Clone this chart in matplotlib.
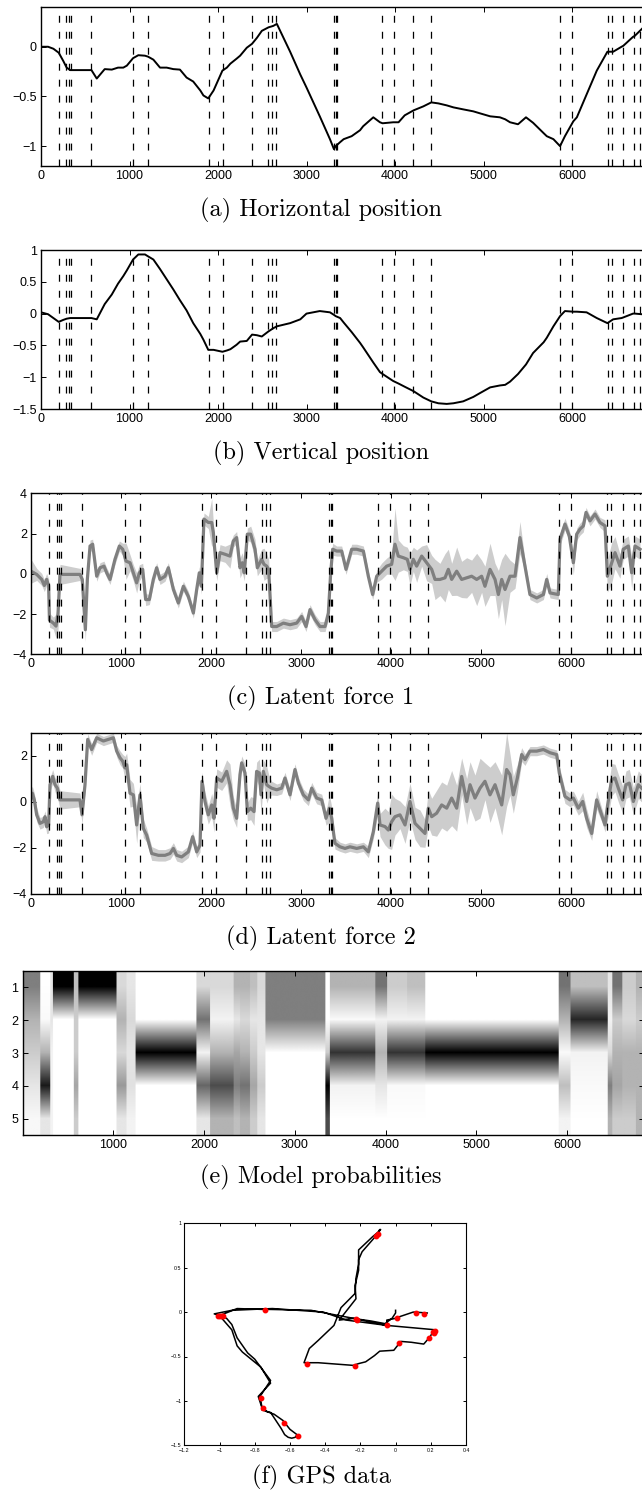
import numpy as np
import matplotlib.pyplot as plt
from matplotlib.ticker import FuncFormatter

plt.rcParams['font.family'] = ['Liberation Sans', 'DejaVu Sans']
plt.rcParams['lines.scale_dashes'] = False

# changepoints (dashed lines)
changepoints = [200, 286, 313, 336, 562, 1040, 1206, 1902, 2053, 2384,
                2562, 2607, 2652, 3311, 3330, 3348, 3857, 3985, 4207, 4410,
                5868, 6003, 6403, 6449, 6573, 6701, 6768]

# positions (horizontal / vertical), read at common times
t_pos = [0, 80, 140, 200, 250, 290, 330, 450, 570, 630,
         720, 800, 870, 930, 970, 1040, 1100, 1175, 1210, 1270,
         1345, 1420, 1495, 1570, 1645, 1720, 1800, 1835, 1890, 1950,
         2050, 2100, 2140, 2210, 2250, 2325, 2385, 2440, 2495, 2570,
         2625, 2665, 2815, 2930, 3000, 3150, 3265, 3310, 3330, 3380,
         3420, 3510, 3605, 3640, 3755, 3830, 3860, 3980, 4040, 4110,
         4210, 4320, 4410, 4490, 4585, 4660, 4770, 4885, 4960, 5075,
         5185, 5245, 5300, 5390, 5480, 5560, 5680, 5715, 5790, 5865,
         5920, 6015, 6055, 6165, 6280, 6400, 6465, 6560, 6580, 6690,
         6710, 6790]
horiz = [0.0, 0.0, -0.02, -0.06, -0.14, -0.21, -0.235, -0.235, -0.235, -0.32,
         -0.225, -0.23, -0.21, -0.21, -0.19, -0.115, -0.085, -0.09, -0.10, -0.13,
         -0.21, -0.21, -0.225, -0.23, -0.31, -0.35, -0.44, -0.49, -0.52, -0.44,
         -0.24, -0.21, -0.17, -0.12, -0.09, -0.01, 0.03, 0.09, 0.16, 0.195,
         0.21, 0.23, -0.05, -0.28, -0.41, -0.70, -0.93, -1.03, -1.00, -0.96,
         -0.93, -0.90, -0.84, -0.80, -0.71, -0.76, -0.77, -0.76, -0.76, -0.69,
         -0.64, -0.60, -0.56, -0.57, -0.59, -0.61, -0.63, -0.65, -0.67, -0.70,
         -0.71, -0.73, -0.76, -0.78, -0.71, -0.765, -0.87, -0.90, -0.93, -1.00,
         -0.90, -0.75, -0.71, -0.48, -0.24, -0.05, -0.05, 0.0, 0.01, 0.10,
         0.11, 0.18]
vert = [0.02, -0.01, -0.07, -0.13, -0.10, -0.08, -0.07, -0.07, -0.07, -0.09,
        0.15, 0.30, 0.47, 0.59, 0.68, 0.85, 0.93, 0.93, 0.90, 0.85,
        0.70, 0.54, 0.38, 0.21, 0.05, -0.15, -0.32, -0.41, -0.57, -0.57,
        -0.60, -0.58, -0.56, -0.49, -0.44, -0.43, -0.33, -0.34, -0.36, -0.28,
        -0.23, -0.20, -0.15, -0.09, 0.0, 0.04, 0.02, -0.02, -0.04, -0.07,
        -0.14, -0.29, -0.46, -0.53, -0.77, -0.92, -0.95, -1.06, -1.10, -1.15,
        -1.22, -1.32, -1.38, -1.41, -1.42, -1.41, -1.38, -1.31, -1.25, -1.16,
        -1.13, -1.12, -1.07, -0.95, -0.80, -0.62, -0.45, -0.38, -0.20, -0.04,
        0.04, 0.03, 0.03, 0.02, -0.07, -0.15, -0.09, -0.07, -0.06, 0.0,
        0.0, -0.01]

# latent force 1: time, mean, band half-width
lf1_t = [0, 63, 119, 148, 174, 196, 205, 248, 278, 300,
         322, 544, 570, 604, 626, 656, 685, 730, 767, 811,
         841, 878, 933, 982, 1019, 1056, 1100, 1137, 1174, 1204,
         1241, 1274, 1315, 1359, 1396, 1433, 1489, 1526, 1582, 1637,
         1693, 1748, 1804, 1841, 1870, 1893, 1922, 1970, 2008, 2026,
         2063, 2100, 2156, 2211, 2248, 2285, 2322, 2348, 2370, 2404,
         2441, 2489, 2515, 2563, 2589, 2619, 2641, 2674, 2730, 2804,
         2878, 2952, 3007, 3056, 3100, 3156, 3211, 3267, 3304, 3330,
         3352, 3396, 3452, 3500, 3563, 3618, 3693, 3748, 3796, 3841,
         3896, 3952, 4007, 4044, 4081, 4137, 4181, 4211, 4248, 4285,
         4341, 4396, 4452, 4489, 4544, 4600, 4637, 4674, 4730, 4785,
         4841, 4896, 4952, 5007, 5044, 5100, 5156, 5193, 5230, 5267,
         5322, 5378, 5433, 5489, 5544, 5619, 5693, 5730, 5767, 5859,
         5878, 5933, 5981, 6026, 6063, 6100, 6137, 6167, 6211, 6267,
         6322, 6378, 6404, 6452, 6489, 6544, 6581, 6637, 6674, 6711,
         6767]
lf1_mean = [0.13, -0.03, -0.28, -0.58, -0.28, -0.6, -2.3, -2.45, -2.6, -2.0,
            -0.03, -0.03, -0.28, -2.78, -0.28, 1.38, 1.47, -0.12, 0.3, 0.38,
            0.05, -0.28, 0.72, 1.38, 1.22, 0.63, 0.55, 0.05, -0.45, 0.05,
            0.22, -1.28, -1.28, -0.28, 0.3, -0.28, -0.12, 0.3, -0.78, -1.45,
            -0.62, -1.12, -1.95, -0.78, 0.05, -0.62, 2.72, 2.55, 2.55, 2.05,
            0.05, 1.05, 0.97, 0.88, 1.63, 1.8, 0.3, 0.55, 0.05, 1.97,
            1.97, 1.22, 0.3, 0.72, 0.47, 0.38, 0.22, -2.62, -2.62, -2.45,
            -2.53, -2.45, -2.12, -2.62, -1.78, -2.28, -2.62, -2.62, -1.95, 0.05,
            1.22, 1.13, 1.13, 0.22, 1.22, 1.22, 1.13, -0.12, -1.03, -0.12,
            0.13, 0.38, 0.47, 1.47, 0.88, 0.8, 0.72, 0.22, 0.72, 0.38,
            0.88, 0.55, 0.22, -0.28, -0.28, -0.2, 0.22, -0.28, 0.13, -0.28,
            -0.2, -0.12, -0.28, -0.12, -0.62, 0.22, -0.28, -1.03, -0.28, -0.78,
            -0.12, -0.12, 1.8, 0.38, -1.03, -1.2, -1.03, -0.28, -0.95, -1.03,
            1.72, 2.47, 1.88, 0.55, 1.97, 2.22, 2.38, 3.05, 2.63, 2.97,
            2.55, 2.38, -0.12, 0.55, 1.05, 0.38, 1.22, 1.38, 0.05, 1.38,
            1.22]
lf1_sd = [0.6, 0.3, 0.3, 0.3, 0.3, 0.35, 0.35, 0.3, 0.6, 0.8,
          0.5, 0.3, 0.4, 0.6, 0.4, 0.3, 0.25, 0.25, 0.25, 0.25,
          0.25, 0.25, 0.25, 0.25, 0.3, 0.9, 0.4, 0.4, 0.5, 0.4,
          0.3, 0.3, 0.25, 0.25, 0.25, 0.25, 0.25, 0.25, 0.25, 0.25,
          0.25, 0.25, 0.25, 0.25, 0.3, 0.4, 0.3, 0.3, 1.2, 0.5,
          0.4, 0.4, 0.4, 0.6, 0.3, 0.3, 0.5, 0.5, 0.4, 0.3,
          0.4, 0.5, 0.4, 0.5, 0.8, 0.6, 0.5, 0.25, 0.25, 0.25,
          0.25, 0.25, 0.25, 0.25, 0.25, 0.25, 0.25, 0.25, 0.3, 0.6,
          0.3, 0.25, 0.25, 0.25, 0.25, 0.25, 0.25, 0.25, 0.25, 0.3,
          0.4, 0.4, 0.5, 1.8, 0.8, 0.6, 0.6, 0.8, 0.6, 0.8,
          0.5, 0.9, 0.7, 1.0, 0.8, 1.2, 1.0, 0.8, 1.2, 0.9,
          1.0, 0.8, 1.3, 0.8, 1.0, 1.3, 0.8, 1.2, 1.0, 1.8,
          0.8, 0.6, 0.8, 0.3, 0.25, 0.25, 0.25, 0.3, 0.25, 0.25,
          0.3, 0.3, 0.3, 0.6, 0.3, 0.3, 0.3, 0.25, 0.25, 0.25,
          0.25, 0.3, 0.8, 1.0, 0.8, 0.6, 0.5, 0.5, 0.8, 0.5,
          0.5]

# latent force 2: time, mean, band half-width
lf2_t = [0, 15, 37, 63, 100, 137, 156, 174, 196, 211,
         241, 267, 293, 322, 544, 567, 600, 630, 674, 730,
         804, 859, 915, 952, 989, 1019, 1044, 1063, 1100, 1137,
         1174, 1211, 1248, 1285, 1341, 1415, 1489, 1545, 1582, 1619,
         1674, 1748, 1796, 1841, 1878, 1900, 1933, 1970, 2008, 2033,
         2063, 2119, 2174, 2211, 2248, 2285, 2322, 2341, 2378, 2404,
         2441, 2478, 2507, 2537, 2556, 2582, 2619, 2641, 2674, 2730,
         2785, 2822, 2878, 2933, 2971, 3026, 3082, 3119, 3174, 3230,
         3278, 3315, 3341, 3367, 3378, 3433, 3489, 3544, 3619, 3693,
         3748, 3804, 3852, 3878, 3933, 3970, 4007, 4044, 4100, 4156,
         4211, 4267, 4322, 4378, 4415, 4452, 4507, 4563, 4619, 4674,
         4730, 4785, 4841, 4878, 4933, 4989, 5044, 5100, 5156, 5230,
         5285, 5322, 5359, 5404, 5452, 5489, 5544, 5619, 5693, 5767,
         5841, 5870, 5933, 5989, 6026, 6081, 6130, 6174, 6230, 6285,
         6341, 6378, 6407, 6452, 6489, 6526, 6574, 6611, 6648, 6693,
         6748, 6785]
lf2_mean = [0.15, 0.36, 0.07, -0.58, -0.95, -0.88, -0.66, -1.1, -1.02, 0.73,
            1.09, 0.73, 0.58, 0.07, 0.07, -0.58, 0.73, 2.7, 2.26, 2.77,
            2.63, 2.7, 2.77, 2.19, 1.9, 1.75, 1.46, 1.6, 0.36, 0.29,
            -1.02, 0.29, -1.17, -1.46, -2.26, -2.34, -2.34, -2.26, -2.04, -2.34,
            -2.41, -2.19, -1.53, -2.19, -1.9, 0.88, 0.0, -0.58, -0.15, -0.73,
            1.02, 0.88, 1.31, 0.73, -0.29, -0.73, 1.17, 1.68, 1.24, -0.44,
            -0.29, -0.44, 1.31, 1.24, 0.29, 1.31, 0.73, 0.66, 0.58, 0.51,
            0.58, 1.02, 0.29, 1.39, 0.8, 0.29, 0.07, 0.58, 0.15, 0.07,
            -0.73, -0.29, -0.73, -1.53, -1.82, -1.97, -2.04, -1.97, -2.04, -1.97,
            -2.19, -1.31, -0.07, -1.02, -1.09, -1.24, -0.88, -0.66, -0.58, -1.02,
            0.0, -0.95, -1.17, -1.39, -0.29, -0.66, -0.51, -0.15, -0.29, 0.15,
            -0.29, 1.09, 0.0, 0.73, 0.15, 0.58, 0.88, 0.29, 0.73, -0.15,
            1.39, 1.17, 0.29, 1.02, 2.04, 1.82, 2.19, 2.19, 2.26, 2.12,
            2.04, 1.24, 0.22, 0.07, 0.15, -0.29, 0.0, -0.73, -1.39, 0.07,
            -0.58, -1.02, -0.15, 0.95, 1.02, 0.58, 0.07, 0.73, 0.8, 0.0,
            0.73, 0.58]
lf2_sd = [0.4, 0.3, 0.3, 0.3, 0.25, 0.25, 0.25, 0.3, 0.35, 0.3,
          0.3, 0.3, 0.4, 0.4, 0.3, 0.4, 0.3, 0.25, 0.25, 0.2,
          0.2, 0.2, 0.2, 0.25, 0.3, 0.3, 0.5, 0.5, 0.6, 0.5,
          0.8, 0.5, 0.4, 0.3, 0.3, 0.25, 0.25, 0.25, 0.25, 0.25,
          0.25, 0.25, 0.25, 0.25, 0.3, 0.4, 0.4, 0.4, 0.5, 0.6,
          0.4, 0.4, 0.5, 0.9, 0.5, 0.4, 0.3, 0.3, 0.4, 0.4,
          0.5, 0.6, 0.4, 0.6, 0.8, 0.5, 0.8, 0.5, 0.3, 0.25,
          0.25, 0.25, 0.25, 0.25, 0.25, 0.25, 0.25, 0.25, 0.25, 0.25,
          0.3, 0.6, 0.5, 0.3, 0.25, 0.2, 0.2, 0.2, 0.2, 0.2,
          0.25, 0.3, 0.5, 0.5, 0.8, 0.8, 1.2, 0.8, 0.6, 0.8,
          0.8, 0.7, 0.8, 0.6, 0.8, 0.8, 1.0, 1.0, 1.0, 1.2,
          1.0, 0.8, 1.0, 1.0, 1.0, 1.3, 0.8, 1.2, 1.0, 1.3,
          1.6, 0.9, 0.8, 0.6, 0.3, 0.25, 0.2, 0.2, 0.2, 0.2,
          0.2, 0.3, 0.3, 0.3, 0.3, 0.3, 0.4, 0.4, 0.3, 0.4,
          0.3, 0.3, 0.6, 0.7, 0.6, 0.6, 0.6, 0.6, 0.6, 0.6,
          0.6, 0.6]

# model probabilities per segment (models 1..5)
seg_edges = [0, 184, 294, 324, 559, 610, 1022, 1132, 1231, 1904,
             2058, 2316, 2390, 2500, 2573, 2665, 3326, 3374, 3877, 4006,
             4226, 4428, 5898, 6027, 6431, 6486, 6596, 6743, 6850]
seg_probs = [[0.5, 0.3, 0.2, 0.1, 0.03], [0.0, 0.02, 0.3, 0.9, 0.1],
             [0.1, 0.1, 0.05, 0.05, 0.05], [1, 0, 0, 0, 0],
             [0.25, 0.2, 0.2, 0.35, 0.2], [1, 0, 0, 0, 0],
             [0.15, 0.3, 0.15, 0.4, 0.1], [0.1, 0.15, 0.1, 0.12, 0.05],
             [0, 0, 1, 0, 0], [0.15, 0.55, 0.05, 0.6, 0.1],
             [0.15, 0.05, 0.3, 0.7, 0.3], [0.3, 0.1, 0.35, 0.5, 0.25],
             [0.3, 0.15, 0.3, 0.55, 0.3], [0.25, 0.1, 0.2, 0.35, 0.2],
             [0.15, 0.1, 0.1, 0.2, 0.1], [0.5, 0.5, 0, 0, 0],
             [0, 0, 0.2, 1, 0.7], [0.3, 0.02, 0.8, 0.05, 0],
             [0.55, 0.05, 0.3, 0.1, 0], [0.2, 0.05, 0.8, 0.02, 0],
             [0.25, 0.05, 0.8, 0.02, 0], [0, 0, 1, 0, 0],
             [0.55, 0.3, 0.02, 0.25, 0.05], [0.25, 0.85, 0.05, 0.02, 0],
             [0.1, 0.05, 0.15, 0.5, 0.3], [0.55, 0.2, 0.3, 0.35, 0.2],
             [0.2, 0.15, 0.3, 0.3, 0.2], [0.3, 0.2, 0.3, 0.3, 0.3]]

# GPS changepoint markers
dots_x = [-0.10, -0.11, -0.743, -1.01, -0.997, -0.984, -0.978, -0.226, -0.217, -0.048,
          0.008, 0.117, 0.159, 0.215, 0.219, 0.225, 0.189, 0.018, -0.23, -0.503,
          -0.766, -0.753, -0.631, -0.555]
dots_y = [0.88, 0.86, 0.024, -0.04, -0.04, -0.04, -0.04, -0.08, -0.09, -0.145,
          -0.07, -0.006, -0.017, -0.22, -0.24, -0.21, -0.295, -0.344, -0.607, -0.59,
          -0.97, -1.076, -1.245, -1.395]

W, H = 642, 1490
X_MAX = 6850
fig = plt.figure(figsize=(W / 100, H / 100), dpi=100)
minus_fmt = FuncFormatter(lambda v, p: f'{round(v, 8) + 0.0:g}'.replace('-', '\u2212'))


def add_ax(left, top, right, bottom):
    return fig.add_axes([left / W, 1 - bottom / H, (right - left) / W, (bottom - top) / H])


def matlab_style(ax, size=9, length=3.5, pad=3):
    ax.tick_params(direction='in', top=True, right=True, labelsize=size,
                   length=length, width=0.7, pad=pad)
    for s in ax.spines.values():
        s.set_linewidth(1.0)


def caption(y, text):
    fig.text(0.5, 1 - y / H, text, ha='center', va='center',
             family=['cmr10', 'DejaVu Serif'], fontsize=17.5)


def dashed(ax):
    for cp in changepoints:
        ax.axvline(cp, color='k', lw=0.9, dashes=(5, 6.5), zorder=3)


def time_axis(ax, ylim, yticks):
    ax.set_xlim(0, X_MAX)
    ax.set_ylim(*ylim)
    ax.set_xticks(range(0, 7000, 1000))
    ax.set_yticks(yticks)
    ax.yaxis.set_major_formatter(minus_fmt)
    matlab_style(ax)


# (a) horizontal position
ax = add_ax(41, 7, 41 + X_MAX * 0.0885, 166)
ax.plot(t_pos, horiz, color='k', lw=1.4)
dashed(ax)
time_axis(ax, (-1.2, 0.4), [-1, -0.5, 0])
caption(210, '(a) Horizontal position')

# (b) vertical position
ax = add_ax(41, 250, 41 + X_MAX * 0.0885, 409)
ax.plot(t_pos, vert, color='k', lw=1.4)
dashed(ax)
time_axis(ax, (-1.5, 1), [-1.5, -1, -0.5, 0, 0.5, 1])
caption(453, '(b) Vertical position')

# (c) latent force 1
ax = add_ax(31, 493.3, 31 + X_MAX * 0.09, 654.3)
m1, s1 = np.array(lf1_mean), np.array(lf1_sd)
ax.fill_between(lf1_t, m1 - s1, m1 + s1, color='#cdcdcd', lw=0)
ax.plot(lf1_t, m1, color='#7f7f7f', lw=2.3)
dashed(ax)
time_axis(ax, (-4, 4), [-4, -2, 0, 2, 4])
caption(698, '(c) Latent force 1')

# (d) latent force 2
ax = add_ax(31, 732.5, 31 + X_MAX * 0.09, 893.5)
m2, s2 = np.array(lf2_mean), np.array(lf2_sd)
ax.fill_between(lf2_t, m2 - s2, m2 + s2, color='#cdcdcd', lw=0)
ax.plot(lf2_t, m2, color='#7f7f7f', lw=2.3)
dashed(ax)
time_axis(ax, (-4, 3), [-4, -2, 0, 2])
caption(938, '(d) Latent force 2')

# (e) model probabilities
ax = add_ax(22.7, 971, 22.7 + X_MAX * 0.0907, 1135)
bins = np.arange(0, X_MAX, 10)
seg_idx = np.searchsorted(seg_edges, bins, side='right') - 1
img = np.array(seg_probs).T[:, seg_idx]
ax.imshow(img, aspect='auto', cmap='gray_r', vmin=0, vmax=1,
          extent=[0, X_MAX, 5.5, 0.5], interpolation='bilinear')
ax.set_xlim(0, X_MAX)
ax.set_ylim(5.5, 0.5)
ax.set_xticks(range(1000, 7000, 1000))
ax.set_yticks([1, 2, 3, 4, 5])
matlab_style(ax)
caption(1177, '(e) Model probabilities')

# (f) GPS data
ax = add_ax(184.3, 1223.3, 466, 1445.3)
ax.plot(horiz, vert, color='k', lw=1.1)
ax.plot(dots_x, dots_y, 'o', color='red', ms=3.2, mec='red')
ax.set_xlim(-1.2, 0.4)
ax.set_ylim(-1.5, 1)
ax.set_xticks(np.arange(-1.2, 0.41, 0.2))
ax.set_yticks(np.arange(-1.5, 1.01, 0.5))
ax.xaxis.set_major_formatter(minus_fmt)
ax.yaxis.set_major_formatter(minus_fmt)
matlab_style(ax, size=3.8, length=2, pad=2)
for s in ax.spines.values():
    s.set_linewidth(0.8)
caption(1477, '(f) GPS data')

fig.savefig('out.png', dpi=100)
